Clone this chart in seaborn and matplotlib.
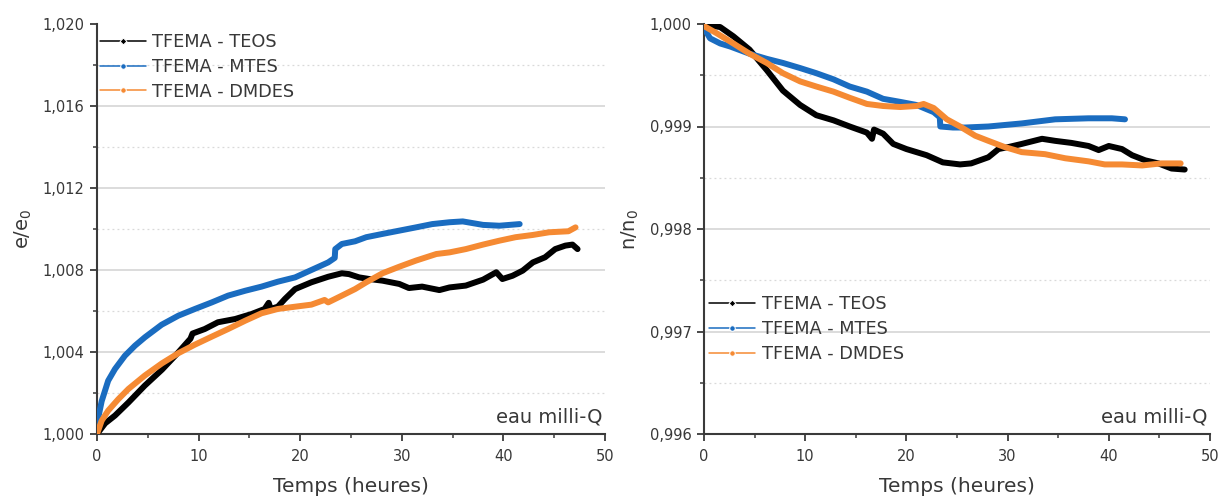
import numpy as np
import pandas as pd
import matplotlib
matplotlib.use("Agg")
import matplotlib.pyplot as plt
import seaborn as sns

# ---------------- data ----------------
series_names = ["TFEMA - TEOS", "TFEMA - MTES", "TFEMA - DMDES"]
colors = ["#000000", "#1a6cc0", "#f58a33"]

# left panel: e/e0
e_teos_t = [0, 0.8, 1.77, 3.1, 4.7, 6.4, 8.0, 9.2, 9.4, 10.6, 11.9, 13.6, 15.2, 16.5, 16.9, 17.1, 17.8, 18.5, 19.5, 21.1,
            22.75, 24.1, 24.8, 25.8, 26.8, 28.1, 29.75, 30.7, 32.0, 33.7, 34.7, 36.3, 38.0, 39.3, 39.9, 40.9,
            41.9, 42.9, 44.1, 45.1, 46.1, 46.8, 47.3]
e_teos_v = [1.0000, 1.00052, 1.0009, 1.00154, 1.00236, 1.00314, 1.00398, 1.00465, 1.0049, 1.00512, 1.00545, 1.00561,
            1.00585, 1.0061, 1.0064, 1.0061, 1.00621, 1.00659, 1.00707, 1.0074, 1.00767, 1.00784, 1.0078, 1.00764,
            1.00756, 1.00748, 1.00732, 1.00712, 1.00719, 1.00702, 1.00715, 1.00724, 1.00753, 1.00789, 1.00756,
            1.00772, 1.00797, 1.00837, 1.00862, 1.00902, 1.00919, 1.00924, 1.00902]

e_mtes_t = [0, 0.46, 1.1, 1.77, 2.75, 3.74, 4.72, 6.36, 8.0, 9.64, 11.3, 12.9, 14.6, 16.2, 17.8, 19.5, 21.1,
            22.75, 23.4, 23.45, 24.1, 25.4, 26.5, 28.1, 29.75, 31.4, 33.0, 34.7, 36.0, 38.0, 39.6, 41.6]
e_mtes_v = [1.0005, 1.0016, 1.0026, 1.00317, 1.00382, 1.00431, 1.00472, 1.00533, 1.00577, 1.0061, 1.00642,
            1.00675, 1.00699, 1.00719, 1.00743, 1.00764, 1.008, 1.00837, 1.00859, 1.00902, 1.00927, 1.0094,
            1.0096, 1.00976, 1.00992, 1.01008, 1.01024, 1.01033, 1.01037, 1.0102, 1.01016, 1.01024]

e_dmdes_t = [0, 0.46, 1.1, 2.1, 3.1, 4.7, 6.4, 8.0, 9.64, 11.3, 12.9, 14.6, 16.2, 17.8, 19.5, 21.1, 22.4,
             22.75, 24.1, 25.4, 26.5, 28.1, 29.75, 31.4, 33.4, 34.7, 36.3, 38.0, 39.6, 41.2, 42.9, 44.5,
             46.4, 47.1]
e_dmdes_v = [1.0000, 1.00065, 1.00114, 1.0017, 1.0022, 1.00285, 1.00345, 1.00394, 1.00436, 1.00475, 1.00512,
             1.00553, 1.00589, 1.0061, 1.00621, 1.00631, 1.00654, 1.00642, 1.00675, 1.00707, 1.0074, 1.00784,
             1.00816, 1.00846, 1.00878, 1.00886, 1.00902, 1.00924, 1.00943, 1.0096, 1.00971, 1.00984, 1.00989,
             1.01008]

# right panel: n/n0
n_teos_t = [0.3, 1.6, 2.9, 4.5, 6.2, 7.8, 9.5, 11.1, 12.8, 14.4, 16.1, 16.6, 16.8, 17.7, 18.7, 20.0, 22.0,
            23.6, 25.3, 26.4, 28.1, 29.1, 30.1, 31.4, 33.4, 34.7, 36.3, 38.0, 39.0, 40.0, 41.3, 42.3, 43.6,
            44.9, 46.2, 47.5]
n_teos_v = [0.99999, 0.99997, 0.99988, 0.99975, 0.99955, 0.99935, 0.99921, 0.99911, 0.99906, 0.999, 0.99894,
            0.99888, 0.99897, 0.99893, 0.99883, 0.99878, 0.99872, 0.99865, 0.99863, 0.99864, 0.9987, 0.99878,
            0.9988, 0.99883, 0.99888, 0.99886, 0.99884, 0.99881, 0.99877, 0.99881, 0.99878, 0.99872, 0.99867,
            0.99864, 0.99859, 0.99858]

n_mtes_t = [0, 0.6, 1.6, 2.6, 4.5, 6.2, 7.8, 9.5, 11.1, 12.8, 14.4, 16.1, 17.7, 19.4, 21.0, 22.7, 23.3,
            23.35, 24.6, 25.8, 28.1, 31.4, 34.7, 38.0, 40.3, 41.6]
n_mtes_v = [0.99996, 0.99986, 0.99981, 0.99978, 0.99971, 0.99966, 0.99962, 0.99957, 0.99952, 0.99946, 0.99939,
            0.99934, 0.99927, 0.99924, 0.99921, 0.99914, 0.99909, 0.999, 0.99899, 0.99899, 0.999, 0.99903,
            0.99907, 0.99908, 0.99908, 0.99907]

n_dmdes_t = [0, 1.25, 2.9, 4.5, 6.2, 7.8, 9.5, 11.1, 12.8, 14.4, 16.1, 17.7, 19.4, 21.0, 21.7, 22.7, 24.0,
             25.3, 26.8, 28.1, 29.7, 31.4, 33.7, 35.7, 38.0, 39.6, 41.3, 43.3, 45.2, 47.1]
n_dmdes_v = [0.99998, 0.99991, 0.99981, 0.99971, 0.99962, 0.99952, 0.99944, 0.99939, 0.99934, 0.99928,
             0.99922, 0.9992, 0.99919, 0.9992, 0.99922, 0.99918, 0.99907, 0.999, 0.99891, 0.99886, 0.9988,
             0.99875, 0.99873, 0.99869, 0.99866, 0.99863, 0.99863, 0.99862, 0.99864, 0.99864]

x_ticks = [0, 10, 20, 30, 40, 50]
x_ticklabels = ["0", "10", "20", "30", "40", "50"]
e_ticks = [1.000, 1.004, 1.008, 1.012, 1.016, 1.020]
e_ticklabels = ["1,000", "1,004", "1,008", "1,012", "1,016", "1,020"]
n_ticks = [0.996, 0.997, 0.998, 0.999, 1.000]
n_ticklabels = ["0,996", "0,997", "0,998", "0,999", "1,000"]

x_label = "Temps (heures)"
e_label = r"e/e$_\mathregular{0}$"
n_label = r"n/n$_\mathregular{0}$"
annot = "eau milli-Q"


def frame(ts, vs):
    rows = []
    for name, t, v in zip(series_names, ts, vs):
        rows.append(pd.DataFrame({"t": t, "v": v, "serie": name}))
    return pd.concat(rows, ignore_index=True)


df_e = frame([e_teos_t, e_mtes_t, e_dmdes_t], [e_teos_v, e_mtes_v, e_dmdes_v])
df_n = frame([n_teos_t, n_mtes_t, n_dmdes_t], [n_teos_v, n_mtes_v, n_dmdes_v])

# ---------------- style ----------------
sns.set_theme(style="white")
plt.rcParams["font.family"] = ["DejaVu Sans"]
txt = "#383838"
spine_c = "#3a3a3a"
grid_c = "#d9d9d9"

fig = plt.figure(figsize=(12.21, 5.01), dpi=100)
W, H = 1221, 501
ax1 = fig.add_axes([97 / W, (H - 434) / H, 508 / W, 410 / H])
ax2 = fig.add_axes([704 / W, (H - 434) / H, 506 / W, 410 / H])

palette = dict(zip(series_names, colors))


def style_axis(ax, yticks, ylabels, ylim, ylab):
    ax.set_xlim(0, 50)
    ax.set_ylim(*ylim)
    ax.set_xticks(x_ticks)
    ax.set_xticklabels(x_ticklabels)
    ax.set_yticks(yticks)
    ax.set_yticklabels(ylabels)
    step_x = x_ticks[1] - x_ticks[0]
    step_y = yticks[1] - yticks[0]
    ax.set_xticks([x + step_x / 2 for x in x_ticks[:-1]], minor=True)
    yminor = [y + step_y / 2 for y in yticks[:-1]]
    ax.set_yticks(yminor, minor=True)
    for y in yticks[1:-1]:
        ax.axhline(y, color=grid_c, lw=1.3, zorder=0)
    for y in yminor:
        ax.axhline(y, color=grid_c, lw=0.9, ls=(0, (1.5, 2.5)), zorder=0)
    for s in ["top", "right"]:
        ax.spines[s].set_visible(False)
    for s in ["left", "bottom"]:
        ax.spines[s].set_color(spine_c)
        ax.spines[s].set_linewidth(1.5)
    ax.tick_params(which="major", direction="out", length=5, width=1.3, color=spine_c,
                   labelsize=10.5, labelcolor=txt, left=True, bottom=True)
    ax.tick_params(axis="x", which="major", pad=5.5)
    ax.tick_params(axis="y", which="major", pad=4)
    ax.tick_params(which="minor", direction="out", length=3, width=1.1, color=spine_c,
                   left=True, bottom=True)
    ax.set_xlabel(x_label, fontsize=14.5, color=txt, labelpad=10)
    ax.set_ylabel(ylab, fontsize=14, color=txt, labelpad=6)
    ax.text(0.995, 0.028, annot, transform=ax.transAxes, ha="right", va="baseline",
            fontsize=14, color=txt)


for ax, df in [(ax1, df_e), (ax2, df_n)]:
    sns.lineplot(data=df, x="t", y="v", hue="serie", palette=palette, hue_order=series_names,
                 lw=4.3, ax=ax, sort=False, estimator=None, zorder=3)

style_axis(ax1, e_ticks, e_ticklabels, (1.000, 1.020), e_label)
style_axis(ax2, n_ticks, n_ticklabels, (0.996, 1.000), n_label)


def fix_legend(ax, anchor):
    leg = ax.legend(loc="upper left", bbox_to_anchor=anchor, frameon=False, fontsize=12.8,
                    handlelength=2.6, handletextpad=0.35, labelspacing=0.38, borderaxespad=0,
                    borderpad=0)
    markers = ["D", "o", "o"]
    for line, mk in zip(leg.get_lines(), markers):
        line.set_linewidth(1.1)
        line.set_marker(mk)
        line.set_markersize(3.5 if mk == "D" else 4)
    for t in leg.get_texts():
        t.set_color(txt)


fix_legend(ax1, (0.006, 0.978))
fix_legend(ax2, (0.01, 0.338))

fig.savefig("out.png", dpi=100)
